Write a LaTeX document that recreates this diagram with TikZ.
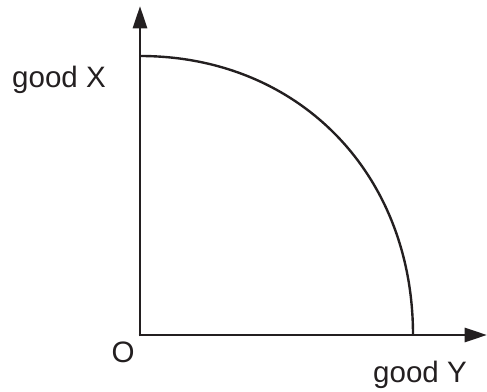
\documentclass[tikz,border=0pt]{standalone}
\usepackage{fontspec}
\setmainfont{Liberation Sans}
\usetikzlibrary{arrows.meta,positioning}
\definecolor{inkgray}{RGB}{35,31,32}

\begin{document}
\begin{tikzpicture}[
  x=0.025cm, y=-0.025cm,
  axis/.style={draw=inkgray, line width=2.1pt, -{Triangle[length=16pt,width=10pt]}},
  frontier/.style={draw=inkgray, line width=1.7pt},
  lbl/.style={text=inkgray, inner sep=0pt, anchor=base, font=\fontsize{21}{25}\selectfont}
]
  \useasboundingbox (0,0) rectangle (487,392);

  % Origin and axis ends
  \coordinate (origin) at (140,335);
  \coordinate (ytip) at (140,6);
  \coordinate (xtip) at (487,335);

  % Intercepts of the frontier
  \coordinate (xmax) at (140,56);
  \coordinate (ymax) at (413,335);

  % Axes
  \draw[axis] ([yshift=-1pt]origin) -- (ytip);
  \draw[axis] ([xshift=-1pt]origin) -- (xtip);

  % Production possibility frontier
  \draw[frontier] (xmax) .. controls (298,56) and (413,173) .. (ymax);

  % Labels
  \node[lbl] (goodx) at (59,87.5) {good X};
  \node[lbl] (orig) at (123,362.5) {O};
  \node[lbl] (goody) at (420,383) {good Y};

\end{tikzpicture}
\end{document}
